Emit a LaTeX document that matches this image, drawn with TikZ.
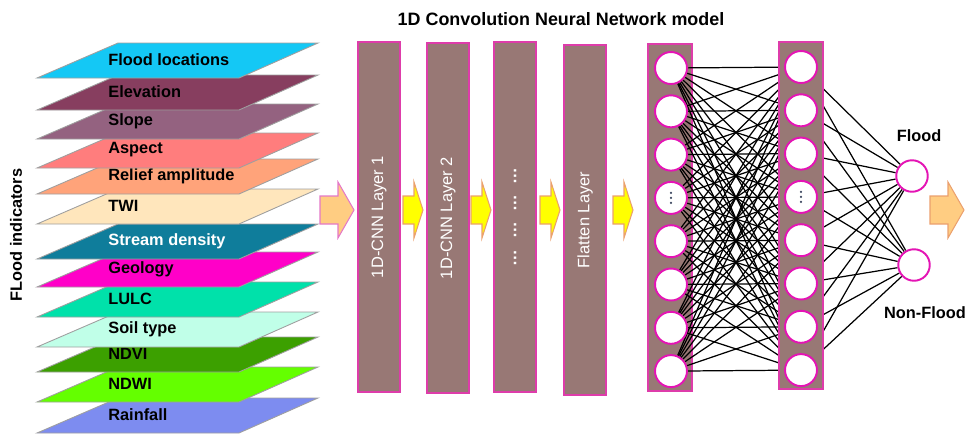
\documentclass[tikz,border=0pt]{standalone}
\usepackage{fontspec}
\setmainfont{Liberation Sans}
\usetikzlibrary{positioning}

\pgfdeclarelayer{bg}
\pgfdeclarelayer{edges}
\pgfdeclarelayer{cover}
\pgfsetlayers{bg,edges,cover,main}

% indicator sheets
\definecolor{floodloc}{RGB}{20,200,245}
\definecolor{elev}{RGB}{135,62,95}
\definecolor{slope}{RGB}{148,98,128}
\definecolor{aspect}{RGB}{255,125,125}
\definecolor{relief}{RGB}{255,163,122}
\definecolor{twi}{RGB}{255,230,188}
\definecolor{stream}{RGB}{15,125,155}
\definecolor{geology}{RGB}{255,0,200}
\definecolor{lulc}{RGB}{0,225,170}
\definecolor{soil}{RGB}{192,255,232}
\definecolor{ndvi}{RGB}{60,160,0}
\definecolor{ndwi}{RGB}{100,255,0}
\definecolor{rainfall}{RGB}{125,140,240}
% network parts
\definecolor{boxbrown}{RGB}{152,120,117}
\definecolor{boxpink}{RGB}{222,60,170}
\definecolor{nrnpink}{RGB}{228,20,180}
\definecolor{dotgray}{RGB}{60,70,95}
\definecolor{arrorange}{RGB}{255,205,130}
\definecolor{arryellow}{RGB}{255,255,0}
\definecolor{arrpink}{RGB}{228,120,200}
\definecolor{arrrim}{RGB}{235,160,110}

\tikzset{
  sheet/.style={draw=gray!75, line width=0.5pt},
  boldtext/.style={font=\fontsize{9.3}{11}\selectfont\bfseries, inner sep=0pt},
  cnnbox/.style={draw=boxpink, fill=boxbrown, line width=0.8pt, rotate=90,
    minimum width=7cm, minimum height=0.84cm, inner sep=0pt,
    text=white, font=\fontsize{9.4}{11}\selectfont},
  densebox/.style={draw=boxpink, fill=boxbrown, line width=0.8pt},
  neuron/.style={circle, draw=nrnpink, fill=white, line width=1.1pt,
    minimum size=0.64cm, inner sep=0pt},
  link/.style={line width=0.7pt}
}

\begin{document}
\begin{tikzpicture}[x=0.02cm, y=-0.02cm]
  \useasboundingbox (0,0) rectangle (980,444);

  % === FLOOD INDICATORS ===
  \foreach \b/\col/\txt/\tcol [count=\i] in {
      433/rainfall/Rainfall/black, 402/ndwi/NDWI/black,
      372/ndvi/NDVI/black, 347/soil/Soil type/black,
      317/lulc/LULC/black, 287/geology/Geology/black,
      259/stream/Stream density/white, 224/twi/TWI/black,
      194/relief/Relief amplitude/black, 168/aspect/Aspect/black,
      139/slope/Slope/black, 110/elev/Elevation/black,
      78/floodloc/Flood locations/black} {
    \filldraw[sheet, fill=\col]
      (37,\b) -- (239,\b) -- (318,\b-35) -- (118,\b-35) -- cycle;
    \node[boldtext, anchor=west, text=\tcol] (ind\i) at (108,\b-18) {\txt};
  }
  \node[boldtext, rotate=90] (indlabel) at (16,235) {FLood indicators};

  % === 1D-CNN LAYERS ===
  \node[boldtext, font=\fontsize{10.2}{12}\selectfont\bfseries] (title)
    at (561,19) {1D Convolution Neural Network model};
  \node[cnnbox] (cnn1) at (379,217) {1D-CNN Layer 1};
  \node[cnnbox] (cnn2) at (448,218) {1D-CNN Layer 2};
  \node[cnnbox, font=\fontsize{9.5}{11}\selectfont\bfseries] (cnn3) at (515,217)
    {…\hspace{6pt}…\hspace{6pt}…\hspace{6pt}…};
  \node[cnnbox] (flat) at (585,220) {Flatten Layer};

  % Block arrows
  \foreach \xa/\xb/\xc/\col/\rim in {320/338/354/arrorange/arrpink,
      403/414/423/arryellow/arrrim, 471/482/491/arryellow/arrrim,
      540/551/560/arryellow/arrrim, 613/624/633/arryellow/arrrim,
      930/948/964/arrorange/arrrim} {
    \filldraw[fill=\col, draw=\rim, line width=0.6pt]
      (\xa,196) -- (\xb,196) -- (\xb,182) -- (\xc,210)
      -- (\xb,238) -- (\xb,224) -- (\xa,224) -- cycle;
  }

  % === DENSE LAYERS ===
  \begin{pgfonlayer}{bg}
    \filldraw[densebox] (648,44) rectangle (692,391);
  \end{pgfonlayer}
  \begin{pgfonlayer}{cover}
    \filldraw[densebox] (779,42) rectangle (823,389);
  \end{pgfonlayer}

  \foreach \i in {1,...,8} {
    \node[neuron] (hA\i) at (671,{68+43.3*(\i-1)}) {};
    \node[neuron] (hB\i) at (801,{67+43.3*(\i-1)}) {};
  }
  % vertical dots in the 4th neurons
  \foreach \d in {-5,0,5} {
    \fill[dotgray] (hA4.center) ++(0,\d) circle[radius=1.2];
    \fill[dotgray] (hB4.center) ++(0,\d) circle[radius=1.2];
  }

  % Output neurons
  \node[neuron, minimum size=0.63cm] (flood) at (912,176) {};
  \node[neuron, minimum size=0.63cm] (nonflood) at (914,265) {};
  \node[boldtext, above=0.34cm of flood, xshift=0.14cm] (floodlbl) {Flood};
  \node[boldtext, below=0.5cm of nonflood, xshift=0.22cm] (nonfloodlbl)
    {Non-Flood};

  % Full connections
  \begin{pgfonlayer}{edges}
    \foreach \i in {1,...,8}
      \foreach \j in {1,...,8}
        \draw[link] (hA\i) -- (hB\j);
    \foreach \j in {1,...,8}
      \draw[link] (hB\j) -- (flood) (hB\j) -- (nonflood);
  \end{pgfonlayer}

\end{tikzpicture}
\end{document}
